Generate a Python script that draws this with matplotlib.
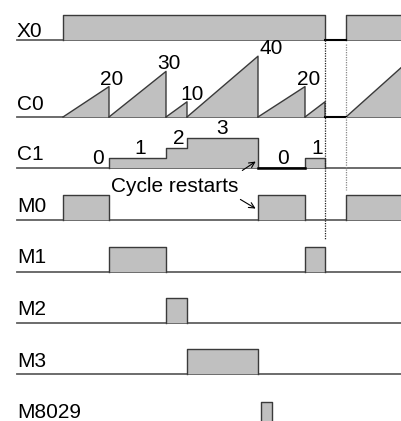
import matplotlib.pyplot as plt
from matplotlib.patches import Polygon

plt.rcParams['font.family'] = ['Liberation Sans', 'DejaVu Sans']

# event times (time axis, left to right)
t_start = 17
t_end = 402

# signal names
signals = ["X0", "C0", "C1", "M0", "M1", "M2", "M3", "M8029"]

# C0 counter: ramp segments (start, stop, value reached at stop)
c0_ramps = [(63, 109, 20), (109, 166, 30), (166, 187, 10), (187, 258, 40),
            (258, 305, 20), (305, 325, 10), (346, 402, 33)]
c0_labels = [20, 30, 10, 40, 20]

# C1 counter: step levels (start, stop, value)
c1_steps = [(63, 109, 0), (109, 166, 1), (166, 187, 2), (187, 258, 3),
            (258, 305, 0), (305, 325, 1)]

# digital signals: list of high intervals
pulses = {
    "X0": [(63, 325), (346, 402)],
    "M0": [(63, 109), (258, 305), (346, 402)],
    "M1": [(109, 166), (305, 325)],
    "M2": [(166, 187)],
    "M3": [(187, 258)],
    "M8029": [(261, 272)],
}

# layout (pixel rows)
base = {"X0": 40, "C0": 117, "C1": 168, "M0": 220, "M1": 272,
        "M2": 323, "M3": 374, "M8029": 427}
label_y = {"X0": 37, "C0": 110, "C1": 160, "M0": 212, "M1": 263,
           "M2": 315, "M3": 367, "M8029": 418}
pulse_h = 25
c0_scale = 1.52
c1_scale = 10
fs = 15

fill_c = "#c0c0c0"
edge_c = "#3a3a3a"
line_c = "#606060"

fig = plt.figure(figsize=(4.02, 4.21), dpi=100)
ax = fig.add_axes([0, 0, 1, 1])
ax.set_xlim(0, 402)
ax.set_ylim(421, 0)
ax.axis("off")

for name in signals:
    ax.text(t_start, label_y[name], name, fontsize=fs, va="baseline", ha="left")
    if name != "M8029":
        ax.plot([t_start, t_end], [base[name], base[name]], color=line_c, lw=1.3, zorder=1)

# digital pulses
for name, ivs in pulses.items():
    y0 = base[name]
    for a, b in ivs:
        ax.fill_between([a, b], y0, y0 - pulse_h, color=fill_c, lw=0, zorder=2)
        if b >= t_end:
            ax.plot([a, a, b], [y0, y0 - pulse_h, y0 - pulse_h], color=edge_c, lw=1, zorder=3)
        else:
            ax.plot([a, a, b, b], [y0, y0 - pulse_h, y0 - pulse_h, y0],
                    color=edge_c, lw=1, zorder=3)

# C0 sawtooth
y0 = base["C0"]
for a, b, v in c0_ramps:
    top = y0 - v * c0_scale
    ax.add_patch(Polygon([(a, y0), (b, top), (b, y0)], closed=True,
                         facecolor=fill_c, edgecolor="none", zorder=2))
    if b >= t_end:
        ax.plot([a, b], [y0, top], color=edge_c, lw=1, zorder=3)
    else:
        ax.plot([a, b, b], [y0, top, y0], color=edge_c, lw=1, zorder=3)

label_pos = [(100, 20), (157, 30), (180, 10), (260, 40), (297, 20)]
for (x, v), lab in zip(label_pos, c0_labels):
    ax.text(x, y0 - v * c0_scale - 2, str(lab), fontsize=fs, ha="left", va="baseline")

# low segments of X0 / C0 during gap
for name in ["X0", "C0"]:
    ax.plot([325, 346], [base[name], base[name]], color="black", lw=1.5, zorder=4)

# C1 staircase: group consecutive nonzero steps into one outline
y0 = base["C1"]
groups = []
cur = []
for a, b, v in c1_steps:
    if v > 0:
        cur.append((a, b, v))
    else:
        if cur:
            groups.append(cur)
        cur = []
if cur:
    groups.append(cur)
for g in groups:
    xs = [g[0][0]]
    ys = [y0]
    for a, b, v in g:
        xs += [a, b]
        ys += [y0 - v * c1_scale, y0 - v * c1_scale]
    xs.append(g[-1][1])
    ys.append(y0)
    ax.fill(xs, ys, color=fill_c, lw=0, zorder=2)
    ax.plot(xs, ys, color=edge_c, lw=1, zorder=3)

c1_lab_x = [98, 140, 179, 222, 283, 317]
for (a, b, v), lx in zip(c1_steps, c1_lab_x):
    if v == 0 and a > 200:
        ax.plot([a, b], [y0, y0], color="black", lw=1.8, zorder=4)
    ax.text(lx, y0 - v * c1_scale - 4, str(v), fontsize=fs, ha="center", va="baseline")

# dotted markers
ax.plot([325, 325], [40, 240], color="#222222", lw=0.9, ls=(0, (1, 1)), zorder=5)
ax.plot([346, 346], [44, 190], color="#888888", lw=0.9, ls=(0, (1, 1)), zorder=5)

# annotation
ax.text(111, 187, "Cycle restarts", fontsize=fs, ha="left", va="center")
ax.annotate("", xy=(258, 160), xytext=(240, 172),
            arrowprops=dict(arrowstyle="->", color="black", lw=0.8))
ax.annotate("", xy=(258, 210), xytext=(238, 198),
            arrowprops=dict(arrowstyle="->", color="black", lw=0.8))

fig.savefig("out.png", dpi=100)
